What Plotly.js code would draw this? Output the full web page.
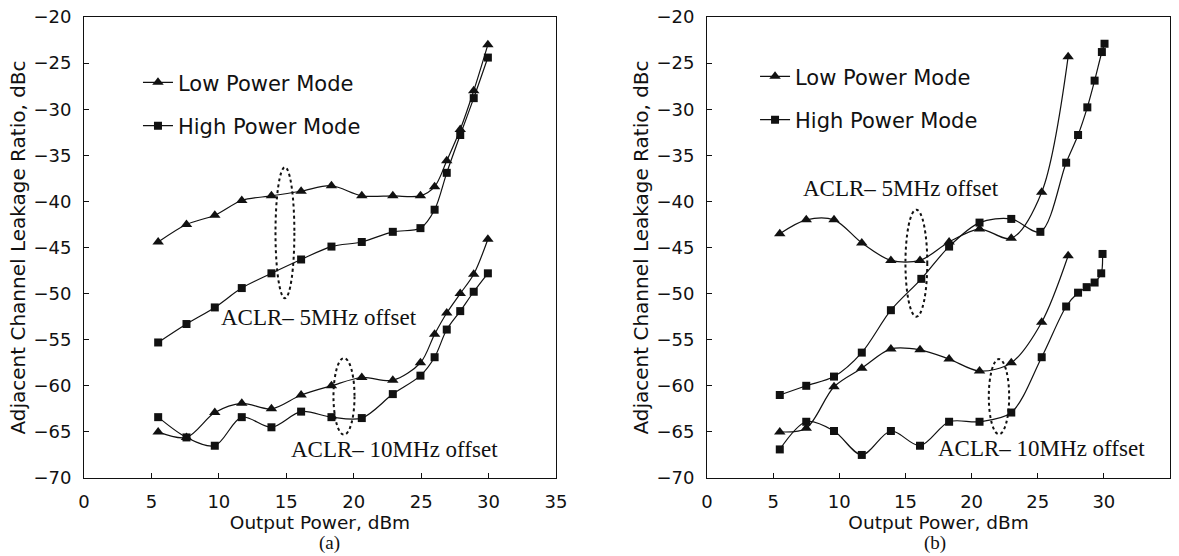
<!DOCTYPE html>
<html>
<head>
<meta charset="utf-8">
<script src="https://cdn.plot.ly/plotly-3.0.1.min.js"></script>
<style>html,body{margin:0;padding:0;background:#fff;}#chart{width:1179px;height:556px;}</style>
</head>
<body>
<div id="chart"></div>
<script>
// ---------- data: panel (a) ----------
const xA = [5.5, 7.6, 9.7, 11.7, 13.9, 16.1, 18.35, 20.6, 22.9, 24.95, 26.0, 26.9, 27.9, 28.9, 29.95];
const aLow5  = [-44.4, -42.5, -41.5, -39.9, -39.4, -38.9, -38.3, -39.4, -39.4, -39.4, -38.4, -35.6, -32.2, -28.0, -23.0];
const aHigh5 = [-55.3, -53.3, -51.5, -49.4, -47.8, -46.3, -44.9, -44.4, -43.3, -42.9, -40.9, -36.9, -32.8, -28.8, -24.4];
const aLow10 = [-65.0, -65.6, -62.9, -61.9, -62.5, -61.0, -60.0, -59.1, -59.4, -57.5, -54.4, -52.1, -50.0, -47.9, -44.1];
const aHigh10= [-63.4, -65.6, -66.5, -63.4, -64.5, -62.8, -63.4, -63.5, -60.9, -58.9, -56.9, -53.9, -51.9, -49.8, -47.8];

// ---------- data: panel (b) ----------
const xBLow   = [5.5, 7.5, 9.6, 11.7, 13.9, 16.1, 18.3, 20.6, 23.0, 25.3, 27.3];
const bLow5   = [-43.5, -42.0, -42.0, -44.5, -46.4, -46.4, -44.4, -43.0, -44.0, -39.0, -24.3];
const bLow10  = [-65.0, -64.6, -60.1, -58.1, -56.0, -56.1, -57.1, -58.4, -57.5, -53.1, -45.9];
const xBHigh5 = [5.5, 7.5, 9.6, 11.7, 13.9, 16.2, 18.3, 20.6, 23.0, 25.2, 27.15, 28.05, 28.75, 29.3, 29.85, 30.05];
const bHigh5  = [-61.0, -60.0, -59.0, -56.4, -51.8, -48.4, -44.9, -42.3, -41.9, -43.3, -35.8, -32.8, -29.8, -26.9, -23.8, -22.9];
const xBHigh10= [5.5, 7.5, 9.6, 11.7, 13.9, 16.1, 18.3, 20.6, 23.0, 25.3, 27.15, 28.05, 28.7, 29.3, 29.8, 29.9];
const bHigh10 = [-66.9, -63.9, -64.9, -67.5, -64.9, -66.5, -63.9, -63.9, -62.9, -56.9, -51.4, -49.9, -49.3, -48.8, -47.8, -45.7];

// ---------- labels ----------
const seriesNames = ["Low Power Mode", "High Power Mode"];
const xTicks = [0, 5, 10, 15, 20, 25, 30, 35];
const yTicks = [-70, -65, -60, -55, -50, -45, -40, -35, -30, -25, -20];
const xTitle = "Output Power, dBm";
const yTitle = "Adjacent Channel Leakage Ratio, dBc";
const offsetLabels = ["ACLR\u2013 5MHz offset", "ACLR\u2013 10MHz offset"];
const panelLabels = ["(a)", "(b)"];

const SANS = "DejaVu Sans";
const SERIF = "Liberation Serif";
const INK = "#111";

function tr(x, y, low, xa, ya, leg, show) {
  return {
    type: "scatter", mode: "lines+markers", x: x, y: y,
    xaxis: xa, yaxis: ya,
    name: low ? seriesNames[0] : seriesNames[1],
    legend: leg, legendgroup: low ? "low" : "high", showlegend: show,
    line: {color: INK, width: 1.2, shape: "spline", smoothing: 0.9},
    marker: {symbol: low ? "triangle-up" : "square", size: low ? 10 : 8, color: INK},
    hoverinfo: "skip"
  };
}

const data = [
  tr(xA, aLow5, true, "x", "y", "legend", true),
  tr(xA, aHigh5, false, "x", "y", "legend", true),
  tr(xA, aLow10, true, "x", "y", "legend", false),
  tr(xA, aHigh10, false, "x", "y", "legend", false),
  tr(xBLow, bLow5, true, "x2", "y2", "legend2", true),
  tr(xBHigh5, bHigh5, false, "x2", "y2", "legend2", true),
  tr(xBLow, bLow10, true, "x2", "y2", "legend2", false),
  tr(xBHigh10, bHigh10, false, "x2", "y2", "legend2", false)
];

function xax(domain, anchor) {
  return {
    domain: domain, anchor: anchor, range: [0, 35], tickvals: xTicks,
    showline: true, mirror: true, linecolor: INK, linewidth: 1,
    ticks: "inside", ticklen: 5, tickcolor: INK, ticklabelstandoff: 7,
    showgrid: false, zeroline: false,
    tickfont: {family: SANS, size: 18, color: INK},
    title: {text: xTitle, font: {family: SANS, size: 18.5, color: INK}, standoff: 0}
  };
}
function yax(anchor) {
  return {
    anchor: anchor, range: [-70, -20], tickvals: yTicks,
    showline: true, mirror: true, linecolor: INK, linewidth: 1,
    ticks: "inside", ticklen: 5, tickcolor: INK, ticklabelstandoff: 8,
    showgrid: false, zeroline: false,
    tickfont: {family: SANS, size: 18, color: INK},
    title: {text: yTitle, font: {family: SANS, size: 20, color: INK}, standoff: 2}
  };
}

function ell(xr, yr, x0, x1, y0, y1) {
  return {type: "circle", xref: xr, yref: yr, x0: x0, x1: x1, y0: y0, y1: y1,
          line: {color: INK, width: 2, dash: "dot"}};
}
function ann(xr, yr, x, y, text, size, yanchor) {
  return {xref: xr, yref: yr, x: x, y: y, text: text, showarrow: false,
          xanchor: "center", yanchor: yanchor || "middle",
          font: {family: SERIF, size: size, color: INK}};
}

const legendCommon = {
  xanchor: "left", yanchor: "top", bgcolor: "rgba(0,0,0,0)",
  traceorder: "grouped", tracegroupgap: 13,
  font: {family: SANS, size: 21, color: INK}
};

const layout = {
  width: 1179, height: 556,
  margin: {l: 84, r: 9, t: 17, b: 78},
  paper_bgcolor: "#fff", plot_bgcolor: "#fff",
  xaxis: xax([0, 0.4346], "y"),
  yaxis: yax("x"),
  xaxis2: xax([0.5737, 1], "y2"),
  yaxis2: yax("x2"),
  legend: Object.assign({x: 0.0497, y: 0.902}, legendCommon),
  legend2: Object.assign({x: 0.6179, y: 0.915}, legendCommon),
  shapes: [
    ell("x", "y", 14.2, 15.6, -36.3, -50.5),
    ell("x", "y", 18.5, 20.06, -57.0, -65.3),
    ell("x2", "y2", 15.0, 16.65, -40.9, -52.5),
    ell("x2", "y2", 21.3, 22.84, -57.1, -65.25)
  ],
  annotations: [
    ann("x", "y", 17.4, -52.6, offsetLabels[0], 23),
    ann("x", "y", 23.05, -66.9, offsetLabels[1], 23),
    ann("x2", "y2", 14.7, -38.6, offsetLabels[0], 23),
    ann("x2", "y2", 25.3, -66.8, offsetLabels[1], 23),
    ann("paper", "paper", 0.2265, -0.1692, panelLabels[0], 19, "bottom"),
    ann("paper", "paper", 0.7836, -0.1692, panelLabels[1], 19, "bottom")
  ]
};

Plotly.newPlot("chart", data, layout, {staticPlot: true, displayModeBar: false});
</script>
</body>
</html>
